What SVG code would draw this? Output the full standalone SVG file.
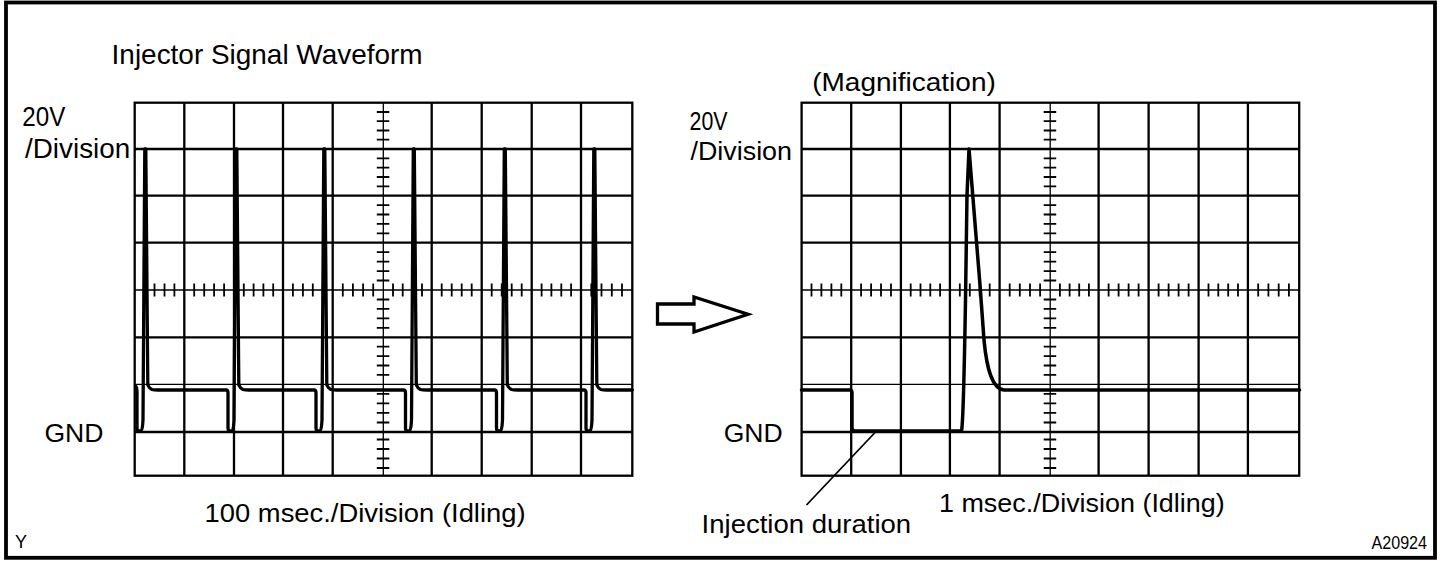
<svg xmlns="http://www.w3.org/2000/svg" xmlns:xlink="http://www.w3.org/1999/xlink" width="1456" height="566" viewBox="0 0 1456 566">
<style>
  .frame{fill:none;stroke:#000;stroke-width:3.8}
  .gthick{fill:none;stroke:#000;stroke-width:2.3}
  .gthin{fill:none;stroke:#000;stroke-width:1.3}
  .tick{fill:none;stroke:#000;stroke-width:1.8}
  .wave{fill:none;stroke:#000;stroke-width:3.3;stroke-linejoin:round;stroke-linecap:round}
  .lead{fill:none;stroke:#000;stroke-width:1.8}
  .arrow{fill:#fff;stroke:#000;stroke-width:3.3;stroke-linejoin:miter}
  text{font-family:"Liberation Sans",Arial,Helvetica,sans-serif;fill:#000}
  .t28{font-size:28px}
  .t26{font-size:26px}
  .t25{font-size:25px}
  .t18{font-size:18.5px}
</style>
<defs>
  <g id="scopeGrid">
    <rect class="gthick" x="134.7" y="102.7" width="497.6" height="373"/>
    <path class="gthick" d="M184.3 102.7V475.7M234 102.7V475.7M283 102.7V475.7M332.7 102.7V475.7M431.7 102.7V475.7M481.7 102.7V475.7M531.7 102.7V475.7M581 102.7V475.7M134.7 149H632.3M134.7 195.7H632.3M134.7 242.7H632.3M134.7 337.3H632.3M134.7 432H632.3"/>
    <path class="gthin" d="M383.3 102.7V475.7M134.7 290H632.3M134.7 384.3H632.3"/>
    <path class="tick" d="M376.8 112h12.5M376.8 121.2h12.5M376.8 130.5h12.5M376.8 139.7h12.5M376.8 158.3h12.5M376.8 167.7h12.5M376.8 177h12.5M376.8 186.4h12.5M376.8 205.1h12.5M376.8 214.5h12.5M376.8 223.9h12.5M376.8 233.3h12.5M376.8 252.2h12.5M376.8 261.6h12.5M376.8 271.1h12.5M376.8 280.5h12.5M376.8 299.5h12.5M376.8 308.9h12.5M376.8 318.4h12.5M376.8 327.8h12.5M376.8 346.7h12.5M376.8 356.1h12.5M376.8 365.5h12.5M376.8 374.9h12.5M376.8 393.8h12.5M376.8 403.4h12.5M376.8 412.9h12.5M376.8 422.5h12.5M376.8 439.5h12.5M376.8 449h12.5M376.8 458.5h12.5M376.8 468h12.5"/>
    <path class="tick" d="M144.6 283.5v13M154.5 283.5v13M164.5 283.5v13M174.4 283.5v13M194.2 283.5v13M204.2 283.5v13M214.1 283.5v13M224.1 283.5v13M243.8 283.5v13M253.6 283.5v13M263.4 283.5v13M273.2 283.5v13M292.9 283.5v13M302.9 283.5v13M312.8 283.5v13M322.8 283.5v13M342.8 283.5v13M352.9 283.5v13M363.1 283.5v13M373.2 283.5v13M393 283.5v13M402.7 283.5v13M412.3 283.5v13M422 283.5v13M441.7 283.5v13M451.7 283.5v13M461.7 283.5v13M471.7 283.5v13M491.7 283.5v13M501.7 283.5v13M511.7 283.5v13M521.7 283.5v13M541.6 283.5v13M551.4 283.5v13M561.3 283.5v13M571.1 283.5v13M591.3 283.5v13M601.5 283.5v13M611.8 283.5v13M622 283.5v13"/>
  </g>
</defs>

<g id="frame">
  <rect class="frame" x="6" y="2.5" width="1429" height="555.3"/>
</g>

<g id="title">
  <text class="t28" x="111.6" y="64" textLength="311" lengthAdjust="spacingAndGlyphs">Injector Signal Waveform</text>
</g>

<g id="scope-left">
  <use xlink:href="#scopeGrid"/>
  <path class="wave" d="M135.5 386Q137 387 137 392L137 428Q137 431 139 431L141 431Q142.5 431 143 420L144.8 149L145.8 149L147.8 385Q149 388 152 389.5Q154 390 158 390L226 390Q228 390 228 393L228 428Q228 431 230 431L232 431Q233.5 431 234 420L235.8 149L236.8 149L238.8 385Q240 388 243 389.5Q245 390 249 390L314 390Q316 390 316 393L316 428Q316 431 318 431L320 431Q321.5 431 322 420L323.8 149L324.8 149L326.8 385Q328 388 331 389.5Q333 390 337 390L403.5 390Q405.5 390 405.5 393L405.5 428Q405.5 431 407.5 431L409.5 431Q411 431 411.5 420L413.3 149L414.3 149L416.3 385Q417.5 388 420.5 389.5Q422.5 390 426.5 390L494.5 390Q496.5 390 496.5 393L496.5 428Q496.5 431 498.5 431L500.5 431Q502 431 502.5 420L504.3 149L505.3 149L507.3 385Q508.5 388 511.5 389.5Q513.5 390 517.5 390L584 390Q586 390 586 393L586 428Q586 431 588 431L590 431Q591.5 431 592 420L593.8 149L594.8 149L596.8 385Q598 388 601 389.5Q603 390 607 390L632.3 390"/>
  <text class="t28" x="22.3" y="126" textLength="43" lengthAdjust="spacingAndGlyphs">20V</text>
  <text class="t28" x="25" y="158" textLength="105.3" lengthAdjust="spacingAndGlyphs">/Division</text>
  <text class="t26" x="44.4" y="441.5" textLength="59" lengthAdjust="spacingAndGlyphs">GND</text>
  <text class="t25" x="204.6" y="521.7" textLength="321" lengthAdjust="spacingAndGlyphs">100 msec./Division (Idling)</text>
</g>

<g id="scope-right">
  <use xlink:href="#scopeGrid" transform="translate(666.9 0)"/>
  <path class="wave" style="stroke-width:3.5" d="M801.5 390L850 390Q852 390 852 393L852 428Q852 431 855 431L961.5 431C963 425 964.5 360 965.5 300L967 195L969 149L980 285L984 340C987 372 993 389 1004 390L1299.5 390"/>
  <text class="t26" x="689.5" y="130" textLength="38" lengthAdjust="spacingAndGlyphs">20V</text>
  <text class="t26" x="690.5" y="160" textLength="101.5" lengthAdjust="spacingAndGlyphs">/Division</text>
  <text class="t26" x="812.2" y="91" textLength="183.6" lengthAdjust="spacingAndGlyphs">(Magnification)</text>
  <text class="t26" x="723.7" y="441.5" textLength="59" lengthAdjust="spacingAndGlyphs">GND</text>
  <text class="t25" x="939" y="511.7" textLength="285.7" lengthAdjust="spacingAndGlyphs">1 msec./Division (Idling)</text>
  <text class="t25" x="701.6" y="533.3" textLength="209.5" lengthAdjust="spacingAndGlyphs">Injection duration</text>
</g>

<g id="connectors">
  <polygon id="magnify-arrow" class="arrow" points="657.5,304 694,304 694,297 748,314.3 694,332 694,324 657.5,324"/>
  <line id="duration-leader" class="lead" x1="875" y1="432.5" x2="806.5" y2="505"/>
</g>

<g id="codes">
  <text class="t18" x="15" y="548.3" textLength="12" lengthAdjust="spacingAndGlyphs">Y</text>
  <text class="t18" x="1371.5" y="549.3" textLength="55.5" lengthAdjust="spacingAndGlyphs">A20924</text>
</g>
</svg>
